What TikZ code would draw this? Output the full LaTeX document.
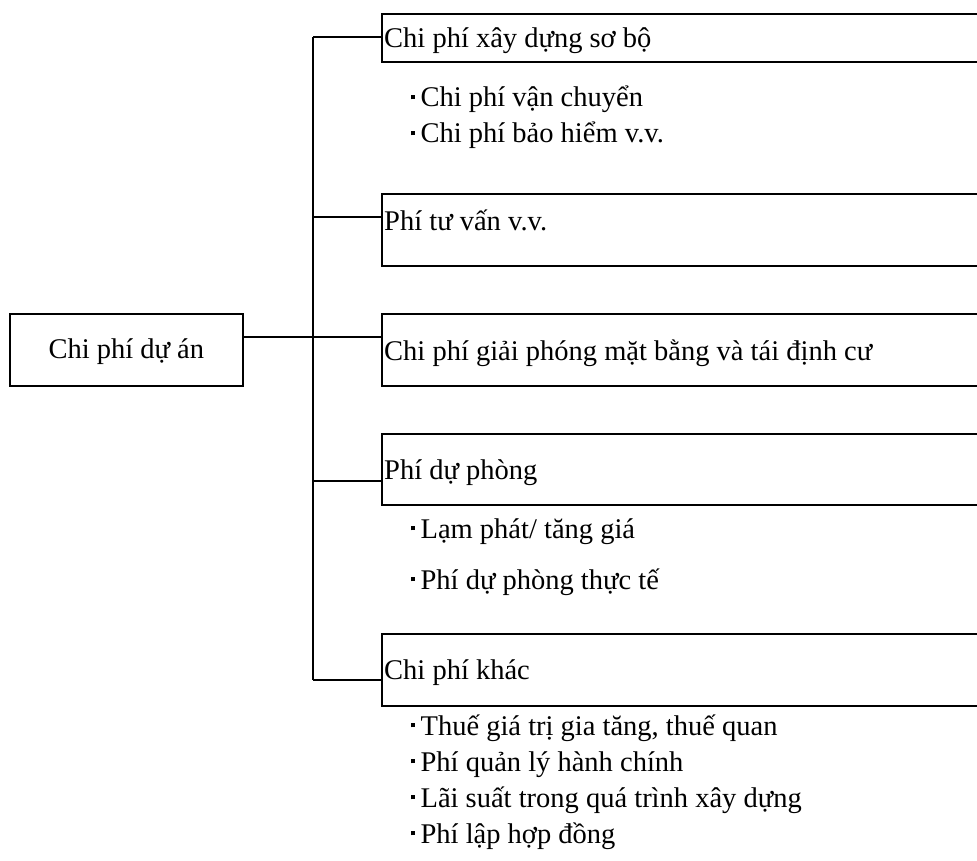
\documentclass[tikz,border=0pt]{standalone}
\usepackage{fontspec}
\setmainfont{Liberation Serif}
\newcommand\sqbul{\rule[0.27em]{0.15em}{0.15em}\hspace{0.18em}}
\begin{document}
\begin{tikzpicture}[x=1pt,y=-1pt,
  every node/.style={font=\fontsize{28.5}{32}\selectfont, inner sep=0pt},
  catbox/.style={draw, line width=1.7pt, anchor=north west, minimum width=700pt},
  cattext/.style={anchor=base west},
  rootbox/.style={draw, line width=1.7pt, anchor=north west, minimum width=233pt, minimum height=72pt},
  subitem/.style={anchor=base west},
  link/.style={line width=1.6pt},
  trunkline/.style={line width=2.6pt}]
\useasboundingbox (0,0) rectangle (977,861);
\clip (0,0) rectangle (977,861);

% root node
\node[rootbox] (root) at (9,313) {};
\node[anchor=base] (rl) at (root.center |- 0,358) {Chi phí dự án};

% cost categories: frames running off to the right, captions inside
\node[catbox, minimum height=48pt] (c1) at (381,13) {};
\node[catbox, minimum height=72pt] (c2) at (381,193) {};
\node[catbox, minimum height=72pt] (c3) at (381,313) {};
\node[catbox, minimum height=71pt] (c4) at (381,433) {};
\node[catbox, minimum height=72pt] (c5) at (381,633) {};
\node[cattext] (l1) at (384,48) {Chi phí xây dựng sơ bộ};
\node[cattext] (l2) at (384,230) {Phí tư vấn v.v.};
\node[cattext] (l3) at (384,360) {Chi phí giải phóng mặt bằng và tái định cư};
\node[cattext] (l4) at (384,479) {Phí dự phòng};
\node[cattext] (l5) at (384,679) {Chi phí khác};

% sub-items
\node[subitem] (s11) at (411,107) {\sqbul Chi phí vận chuyển};
\node[subitem] (s12) at (411,143) {\sqbul Chi phí bảo hiểm v.v.};
\node[subitem] (s41) at (411,538) {\sqbul Lạm phát/ tăng giá};
\node[subitem] (s42) at (411,589) {\sqbul Phí dự phòng thực tế};
\node[subitem] (s51) at (411,735) {\sqbul Thuế giá trị gia tăng, thuế quan};
\node[subitem] (s52) at (411,771) {\sqbul Phí quản lý hành chính};
\node[subitem] (s53) at (411,807) {\sqbul Lãi suất trong quá trình xây dựng};
\node[subitem] (s54) at (411,843) {\sqbul Phí lập hợp đồng};

% trunk junctions
\coordinate (t1) at (313,37);
\coordinate (t2) at (313,217);
\coordinate (t3) at (313,337);
\coordinate (t4) at (313,481);
\coordinate (t5) at (313,680);

% connectors
\draw[trunkline] (t1) -- (t5);
\draw[link] (t1) -- (c1.west |- t1);
\draw[link] (t2) -- (c2.west |- t2);
\draw[link] (root.east |- t3) -- (c3.west |- t3);
\draw[link] (t4) -- (c4.west |- t4);
\draw[link] (t5) -- (c5.west |- t5);
\end{tikzpicture}
\end{document}
